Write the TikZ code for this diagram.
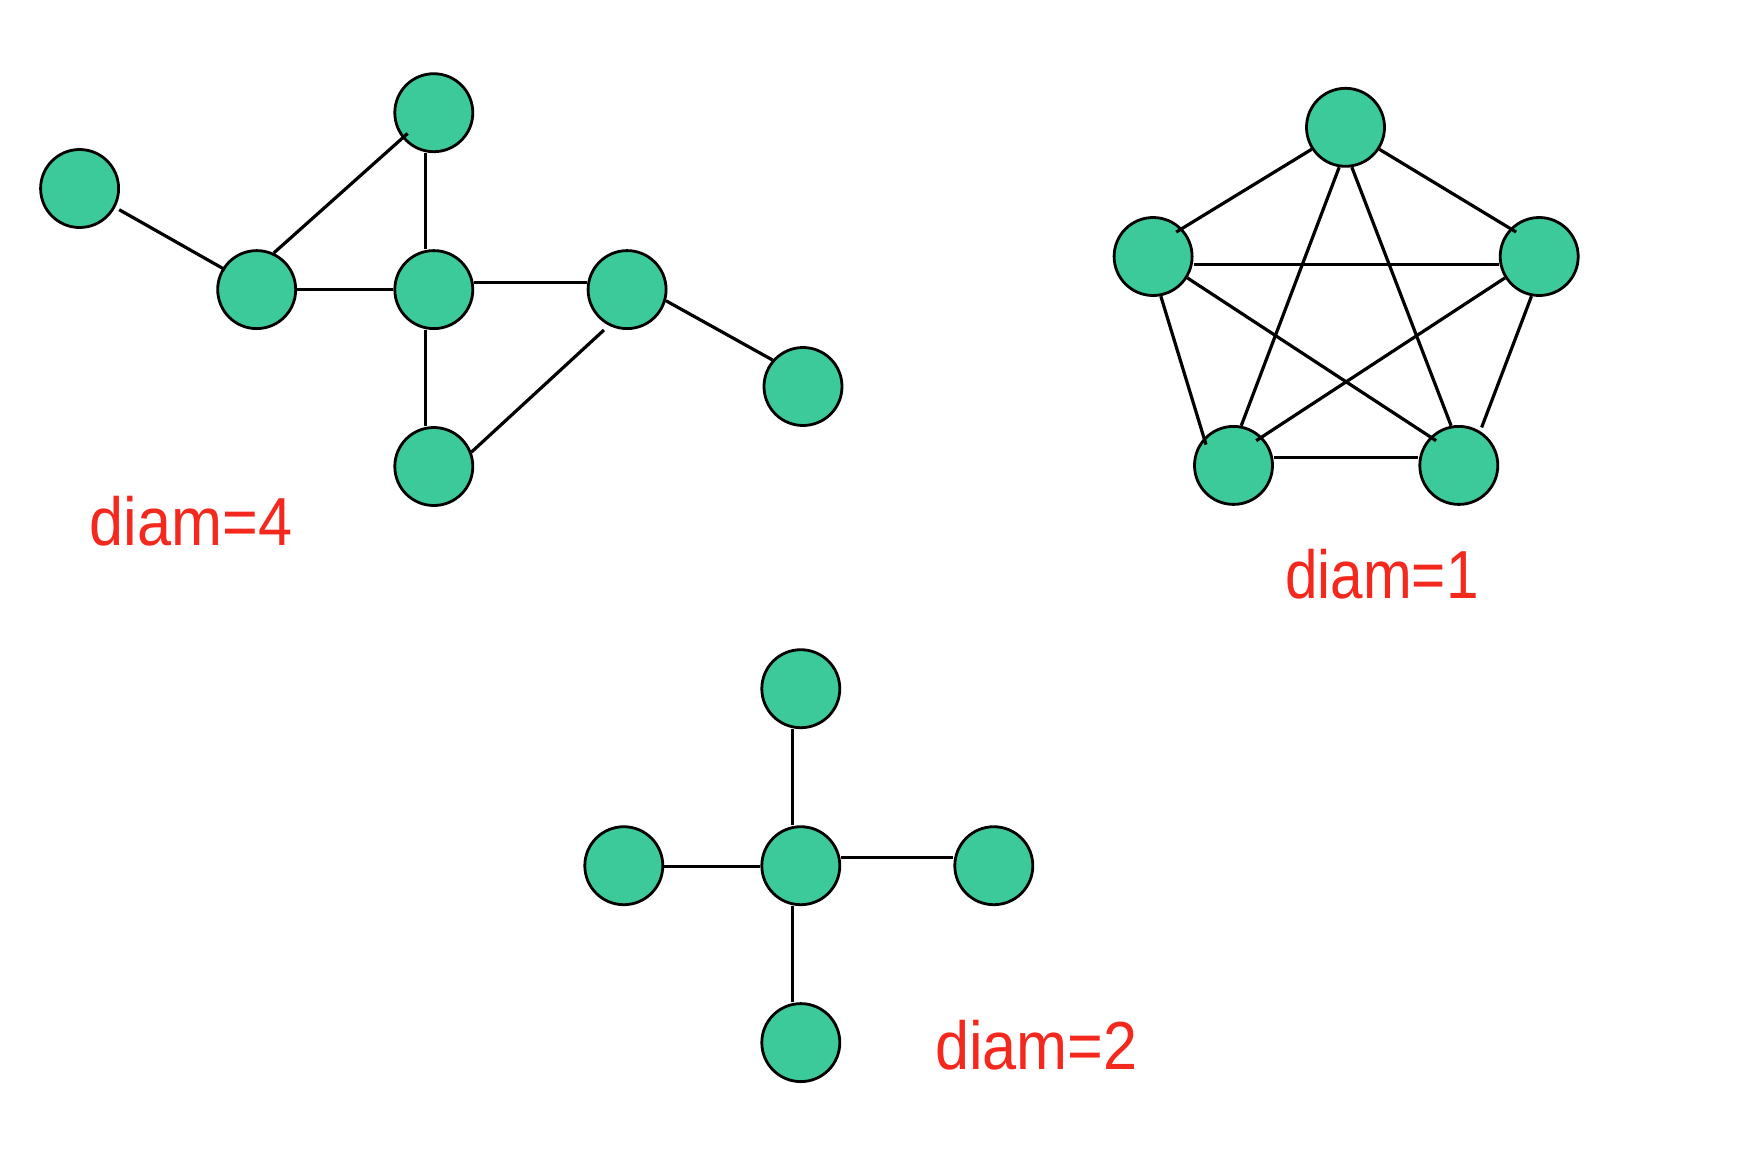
\documentclass[tikz,border=0pt]{standalone}
\usepackage{fontspec}
\setmainfont{Liberation Sans}
\definecolor{nodegreen}{RGB}{60,202,155}
\definecolor{labelred}{RGB}{245,40,30}
\tikzset{
  vert/.style={circle, draw=black, line width=2.8pt, fill=nodegreen, minimum size=78pt, inner sep=0pt},
  edge/.style={draw=black, line width=3.2pt},
  difflabel/.style={anchor=base west, inner sep=0pt, text=labelred, font=\fontsize{68}{80}\selectfont}
}
\begin{document}
\begin{tikzpicture}[x=1pt, y=-1pt]
\useasboundingbox (0,0) rectangle (1762,1168);
\fill[white] (0,0) rectangle (1762,1168);

% ---- graph with diameter 4 ----
\node[vert] (a) at (79.6,188.5) {};
\node[vert] (b) at (256.7,289.6) {};
\node[vert] (c) at (433.8,112.7) {};
\node[vert] (d) at (433.8,289.6) {};
\node[vert] (e) at (627.1,289.6) {};
\node[vert] (f) at (803,386.5) {};
\node[vert] (g) at (433.8,466.5) {};
\draw[edge, shorten <=4.5pt, shorten >=-3pt] (a.332) -- (b.148);
\draw[edge, shorten >=-7pt] (b.65) -- (c.219);
\draw[edge] ([xshift=-8pt]c.south) -- ([xshift=-8pt]d.north);
\draw[edge] (b) -- (d);
\draw[edge] ([yshift=7pt]d.east) -- ([yshift=7pt]e.west);
\draw[edge] ([xshift=-8pt]d.south) -- ([xshift=-8pt]g.north);
\draw[edge, shorten <=6.5pt] (e.243) -- (g.21);
\draw[edge] (e.344) -- (f.139);
\node[difflabel] (l4) at (89.5,545) {\scalebox{0.9}[1]{diam=4}};

% ---- complete graph, diameter 1 ----
\node[vert] (t) at (1345.5,127.3) {};
\node[vert] (l) at (1153.1,256.5) {};
\node[vert] (r) at (1539.2,256.5) {};
\node[vert] (bl) at (1233.5,465.4) {};
\node[vert] (br) at (1458.8,465.4) {};
\draw[edge, shorten >=-7pt] (t.213) -- (l.44);
\draw[edge, shorten >=-7pt] (t.327) -- (r.136);
\draw[edge] ([yshift=-8pt]l.east) -- ([yshift=-8pt]r.west);
\draw[edge, shorten >=-7pt] (l.328) -- (br.135);
\draw[edge, shorten >=-7pt] (r.212) -- (bl.45);
\draw[edge] (t.261) -- (bl.79);
\draw[edge] (t.279) -- (br.101);
\draw[edge, shorten >=-7pt] (l.281) -- (bl.137);
\draw[edge, shorten >=4pt] (r.259) -- (br.58);
\draw[edge] ([yshift=8pt]bl.east) -- ([yshift=8pt]br.west);
\node[difflabel] (l1) at (1285,598.5) {\scalebox{0.86}[1]{diam=1}};

% ---- star, diameter 2 ----
\node[vert] (st) at (800.8,688.7) {};
\node[vert] (sc) at (800.8,865.7) {};
\node[vert] (sl) at (623.8,865.7) {};
\node[vert] (sr) at (993.8,865.7) {};
\node[vert] (sb) at (800.8,1042.6) {};
\draw[edge] ([xshift=-8pt]st.south) -- ([xshift=-8pt]sc.north);
\draw[edge] ([xshift=-8pt]sc.south) -- ([xshift=-8pt]sb.north);
\draw[edge] ([yshift=-1pt]sl.east) -- ([yshift=-1pt]sc.west);
\draw[edge] ([yshift=8.5pt]sc.east) -- ([yshift=8.5pt]sr.west);
\node[difflabel] (l2) at (935,1069) {\scalebox{0.9}[1]{diam=2}};
\end{tikzpicture}
\end{document}
